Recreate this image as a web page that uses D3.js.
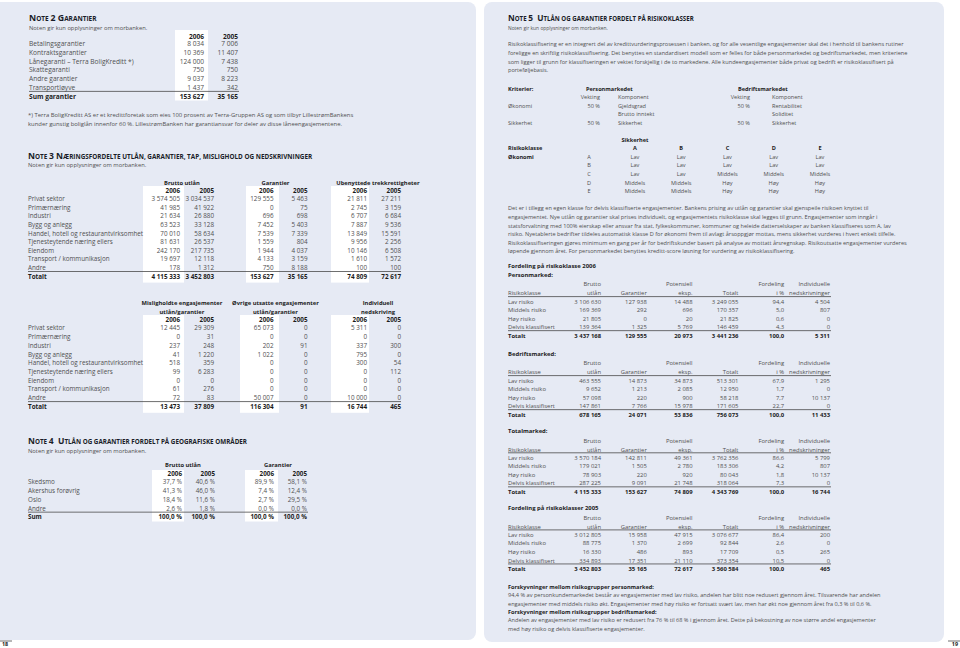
<!doctype html>
<html lang="no">
<head>
<meta charset="utf-8">
<title>Noter 2-5</title>
<style>
html, body { margin: 0; padding: 0; background: #fff; overflow: hidden; }
svg { display: block; }
text { font-family: 'Open Sans', sans-serif; fill: #505050; }
.lp text { font-size: 6.3px; }
.n2 text { font-size: 6.6px; }
.rp text { font-size: 5.6px; }
.rt text { font-size: 5.9px; }
text.fn { font-size: 5.9px; }
text.b, .b text { font-weight: 700; fill: #1c1c1c; }
.lp text.gh { font-size: 5.8px; }
text.ttl { font-weight: 700; fill: #1a1d28; white-space: pre; }
.lp text.sub { font-size: 5.8px; }
.rp text.sub { font-size: 4.9px; }
.rule { stroke: #4a4a4a; stroke-width: 0.8; }
.panel { fill: #e6eaf4; }
.hl { fill: #fff; }
</style>
</head>
<body>
<div id="container"></div>
<script src="https://cdnjs.cloudflare.com/ajax/libs/d3/7.8.5/d3.min.js"></script>
<script>
(function (d3) {
'use strict';

/* DATA */

var aar = ["2006", "2005"];

// note 2
var garantiTyper = ["Betalingsgarantier", "Kontraktsgarantier", "Lånegaranti – Terra BoligKreditt *)",
  "Skattegaranti", "Andre garantier", "Transportløyve", "Sum garantier"];
var garanti2006 = [8034, 10369, 124000, 750, 9037, 1437, 153627];
var garanti2005 = [7006, 11407, 7438, 750, 8223, 342, 35165];
var fotnote = [
  "*)  Terra BoligKreditt AS er et kredittforetak som eies 100 prosent av Terra-Gruppen AS og som tilbyr LillestrømBankens",
  "kunder gunstig boliglån innenfor 60 %. LillestrømBanken har garantiansvar for deler av disse låneengasjementene."
];

// note 3
var naeringer = ["Privat sektor", "Primærnæring", "Industri", "Bygg og anlegg",
  "Handel, hotell og restaurantvirksomhet", "Tjenesteytende næring ellers", "Eiendom",
  "Transport / kommunikasjon", "Andre", "Totalt"];
var grupper1 = ["Brutto utlån", "Garantier", "Ubenyttede trekkrettigheter"];
var utlan2006 = [3574505, 41985, 21634, 63523, 70010, 81631, 242170, 19697, 178, 4115333];
var utlan2005 = [3034537, 41922, 26880, 33128, 58634, 26537, 217735, 12118, 1312, 3452803];
var garantier2006 = [129555, 0, 696, 7452, 7539, 1559, 1944, 4133, 750, 153627];
var garantier2005 = [5463, 75, 698, 5403, 7339, 804, 4037, 3159, 8188, 35165];
var trekk2006 = [21811, 2745, 6707, 7887, 13849, 9956, 10146, 1610, 100, 74809];
var trekk2005 = [27211, 3159, 6684, 9536, 15591, 2256, 6508, 1572, 100, 72617];

var grupper2 = [["Misligholdte engasjementer", "utlån/garantier"],
  ["Øvrige utsatte engasjementer", "utlån/garantier"], ["Individuell", "nedskriving"]];
var mislig2006 = [12445, 0, 237, 41, 518, 99, 0, 61, 72, 13473];
var mislig2005 = [29309, 31, 248, 1220, 359, 6283, 0, 276, 83, 37809];
var utsatt2006 = [65073, 0, 202, 1022, 0, 0, 0, 0, 50007, 116304];
var utsatt2005 = [0, 0, 91, 0, 0, 0, 0, 0, 0, 91];
var nedskr2006 = [5311, 0, 337, 795, 300, 0, 0, 0, 10000, 16744];
var nedskr2005 = [0, 0, 300, 0, 54, 112, 0, 0, 0, 465];

// note 4
var omrader = ["Skedsmo", "Akershus forøvrig", "Oslo", "Andre", "Sum"];
var grupper4 = ["Brutto utlån", "Garantier"];
var omrUtlan2006 = [37.7, 41.3, 18.4, 2.6, 100];
var omrUtlan2005 = [40.6, 46.0, 11.6, 1.8, 100];
var omrGar2006 = [89.9, 7.4, 2.7, 0.0, 100];
var omrGar2005 = [58.1, 12.4, 29.5, 0.0, 100];

// note 5
var innledning = [
  "Risikoklassifisering er en integrert del av kredittvurderingsprosessen i banken, og for alle vesentlige engasjementer skal det i henhold til bankens rutiner",
  "foreligge en skriftlig risikoklassifisering. Det benyttes en standardisert modell som er felles for både personmarkedet og bedriftsmarkedet, men kriteriene",
  "som ligger til grunn for klassifiseringen er vektet forskjellig i de to markedene.  Alle kundeengasjementer både privat og bedrift er risikoklassifisert på",
  "porteføljebasis."
];
var kritRader = ["Økonomi", "", "Sikkerhet"];
var personVekt = ["50 %", "", "50 %"];
var personKomp = ["Gjeldsgrad", "Brutto inntekt", "Sikkerhet"];
var bedriftVekt = ["50 %", "", "50 %"];
var bedriftKomp = ["Rentabilitet", "Soliditet", "Sikkerhet"];
var klasser = ["A", "B", "C", "D", "E"];
var matrise = [
  ["Lav", "Lav", "Lav", "Lav", "Lav"],
  ["Lav", "Lav", "Lav", "Lav", "Lav"],
  ["Lav", "Lav", "Middels", "Middels", "Middels"],
  ["Middels", "Middels", "Høy", "Høy", "Høy"],
  ["Middels", "Middels", "Høy", "Høy", "Høy"]
];
var omtale = [
  "Det er i tillegg en egen klasse for delvis klassifiserte engasjementer. Bankens prising av utlån og garantier skal gjenspeile risikoen knyttet til",
  "engasjementet. Nye utlån og garantier skal prises individuelt, og engasjementets risikoklasse skal legges til grunn. Engasjementer som inngår i",
  "statsforvaltning med 100% eierskap eller ansvar fra stat, fylkeskommuner, kommuner og heleide datterselskaper av banken klassifiseres som A, lav",
  "risiko. Nyetablerte bedrifter tildeles automatisk klasse D for økonomi frem til avlagt årsoppgjør mottas, mens sikkerhet vurderes i hvert enkelt tilfelle.",
  "Risikoklassifiseringen gjøres minimum en gang per år for bedriftskunder basert på analyse av mottatt årsregnskap. Risikoutsatte engasjementer vurderes",
  "løpende gjennom året. For personmarkedet benyttes kreditt-score løsning for vurdering av risikoklassifisering."
];
var risikoklasser = ["Lav risiko", "Middels risiko", "Høy risiko", "Delvis klassifisert", "Totalt"];
var risikoHode1 = ["Brutto", "", "Potensiell", "", "Fordeling", "Individuelle"];
var risikoHode2 = ["utlån", "Garantier", "eksp.", "Totalt", "i %", "nedskrivninger"];

var personBrutto = [3106630, 169369, 21805, 139364, 3437168];
var personGar = [127938, 292, 0, 1325, 129555];
var personPot = [14488, 696, 20, 5769, 20973];
var personTot = [3249055, 170357, 21825, 146459, 3441236];
var personFord = [94.4, 5.0, 0.6, 4.3, 100.0];
var personNed = [4504, 807, 0, 0, 5311];

var bedriftBrutto = [463555, 9652, 57098, 147861, 678165];
var bedriftGar = [14873, 1213, 220, 7766, 24071];
var bedriftPot = [34873, 2085, 900, 15978, 53836];
var bedriftTot = [513301, 12950, 58218, 171605, 756073];
var bedriftFord = [67.9, 1.7, 7.7, 22.7, 100.0];
var bedriftNed = [1295, 0, 10137, 0, 11433];

var totalBrutto = [3570184, 179021, 78903, 287225, 4115333];
var totalGar = [142811, 1505, 220, 9091, 153627];
var totalPot = [49361, 2780, 920, 21748, 74809];
var totalTot = [3762356, 183306, 80043, 318064, 4343769];
var totalFord = [86.6, 4.2, 1.8, 7.3, 100.0];
var totalNed = [5799, 807, 10137, 0, 16744];

var fjorBrutto = [3012805, 88775, 16330, 334893, 3452803];
var fjorGar = [15958, 1370, 486, 17351, 35165];
var fjorPot = [47915, 2699, 893, 21110, 72617];
var fjorTot = [3076677, 92844, 17709, 373354, 3560584];
var fjorFord = [86.4, 2.6, 0.5, 10.5, 100.0];
var fjorNed = [200, 0, 265, 0, 465];

var forskyvning = [
  { head: "Forskyvninger mellom risikogrupper personmarked:", lines: [
    "94,4 % av personkundemarkedet består av engasjementer med lav risiko, andelen har blitt noe redusert gjennom året. Tilsvarende har andelen",
    "engasjementer med middels risiko økt. Engasjementer med høy risiko er fortsatt svært lav, men har økt noe gjennom året fra 0,3 % til 0,6 %."] },
  { head: "Forskyvninger mellom risikogrupper bedriftsmarked:", lines: [
    "Andelen av engasjementer med lav risiko er redusert fra 76 % til 68 % i gjennom året. Dette på bekostning av noe større andel engasjementer",
    "med høy risiko og delvis klassifiserte engasjementer."] }
];

/* UTILS */

var nb = d3.formatLocale({ decimal: ",", thousands: "\u00a0", grouping: [3], currency: ["", " kr"] });
var fInt = nb.format(",d");
var fDec = nb.format(",.1f");
var fPct = function (d) { return fDec(d) + " %"; };

var svg = d3.select("#container").append("svg")
  .attr("width", 960).attr("height", 648);

// small caps headline: capitals full size, lower case as reduced capitals
var title = function (g, x, y, s, size) {
  var runs = [], cur = null;
  s.split("").forEach(function (c) {
    var low = c !== c.toUpperCase();
    var neutral = c.toUpperCase() === c.toLowerCase() && !/[0-9]/.test(c);
    var kind = neutral && cur ? cur.low : low;
    if (!cur || cur.low !== kind) { cur = { low: kind, s: "" }; runs.push(cur); }
    cur.s += c;
  });
  g.append("text").attr("class", "ttl").attr("x", x).attr("y", y)
    .selectAll("tspan").data(runs).join("tspan")
    .attr("font-size", function (d) { return d.low ? size * 0.74 : size; })
    .text(function (d) { return d.s.toUpperCase(); });
};

var text = function (g, x, y, s, cls, anchor) {
  return g.append("text").attr("class", cls || null).attr("x", x).attr("y", y)
    .attr("text-anchor", anchor || "start").text(s);
};

var lines = function (g, arr, x, y0, lh, cls) {
  g.append("g").selectAll("text").data(arr).join("text")
    .attr("class", cls || null)
    .attr("x", x).attr("y", function (d, i) { return y0 + i * lh; })
    .text(function (d) { return d; });
};

// one column of numbers, rows placed by the row scale, last row bold
var column = function (g, values, x, y, rows, fmt, boldLast) {
  g.append("g").selectAll("text").data(values).join("text")
    .attr("class", function (d, i) { return boldLast && i === values.length - 1 ? "b" : null; })
    .attr("x", x).attr("y", function (d, i) { return y(rows[i]); })
    .attr("text-anchor", "end")
    .text(fmt);
};

var labels = function (g, rows, x, y, boldLast) {
  g.append("g").selectAll("text").data(rows).join("text")
    .attr("class", function (d, i) { return boldLast && i === rows.length - 1 ? "b" : null; })
    .attr("x", x).attr("y", function (d) { return y(d); })
    .text(function (d) { return d; });
};

var rule = function (g, x1, x2, y) {
  g.append("line").attr("class", "rule")
    .attr("x1", x1).attr("x2", x2).attr("y1", y).attr("y2", y);
};

var boxes = function (g, spans, y1, y2) {
  g.append("g").selectAll("rect").data(spans).join("rect")
    .attr("class", "hl")
    .attr("x", function (d) { return d[0]; }).attr("width", function (d) { return d[1] - d[0]; })
    .attr("y", y1).attr("height", y2 - y1);
};

/* PANELS */

svg.append("rect").attr("class", "panel").attr("x", -12).attr("y", 2)
  .attr("width", 488).attr("height", 638).attr("rx", 8);
svg.append("rect").attr("class", "panel").attr("x", 484).attr("y", 2)
  .attr("width", 460).attr("height", 640).attr("rx", 8);

var L = svg.append("g").attr("class", "lp");
var R = svg.append("g").attr("class", "rp");

/* NOTE 2 */

(function () {
  var g = L.append("g");
  title(g, 29, 20.5, "Note 2 Garantier", 8.8);
  text(g, 29, 30, "Noten gir kun opplysninger om morbanken.", "sub");
  var t = g.append("g").attr("class", "n2");
  var x = d3.scalePoint().domain(aar).range([204, 238]);
  var y = d3.scalePoint().domain(garantiTyper).range([46.3, 98.6]);
  boxes(t, [[175, 208]], 30, 100.5);
  t.append("g").attr("class", "b").selectAll("text").data(aar).join("text")
    .attr("x", function (d) { return x(d); }).attr("y", 39).attr("text-anchor", "end")
    .text(function (d) { return d; });
  labels(t, garantiTyper, 29, y, true);
  column(t, garanti2006, x("2006"), y, garantiTyper, fInt, true);
  column(t, garanti2005, x("2005"), y, garantiTyper, fInt, true);
  rule(t, 29, 239, y(garantiTyper[garantiTyper.length - 2]) + 1.5);
  lines(g, fotnote, 28, 117.3, 8.3, "fn");
})();

/* NOTE 3 */

var note3Table = function (g, groups, series, spans, top, rowTop, rowBottom) {
  var gx = d3.scalePoint().domain(d3.range(3)).range([180, 367]);
  var ix = d3.scalePoint().domain(aar).range([0, 34]);
  var y = d3.scalePoint().domain(naeringer).range([rowTop, rowBottom]);
  var yearY = rowTop - 8.3;
  boxes(g, spans, top, rowBottom + 4);
  groups.forEach(function (hd, i) {
    var cx = gx(i) + ix("2005") / 2 - 15 + (i === 2 ? 9 : 0);
    hd.forEach(function (s, k) {
      text(g, cx, yearY - 8.4 * (hd.length - k), s, "b gh", "middle");
    });
    aar.forEach(function (a, k) {
      text(g, gx(i) + ix(a), yearY, a, "b", "end");
      column(g, series[i * 2 + k], gx(i) + ix(a), y, naeringer, fInt, true);
    });
  });
  labels(g, naeringer, 28, y, true);
  rule(g, 28, 401, y("Andre") + 1.5);
};

(function () {
  var g = L.append("g");
  title(g, 28, 158.7, "Note 3 Næringsfordelte utlån, garantier, tap, mislighold og nedskrivninger", 8.6);
  text(g, 28, 166.6, "Noten gir kun opplysninger om morbanken.", "sub");
  note3Table(g, grupper1.map(function (d) { return [d]; }),
    [utlan2006, utlan2005, garantier2006, garantier2005, trekk2006, trekk2005],
    [[143, 184], [246, 279], [331, 369]], 186, 201.2, 278.6);
  note3Table(g, grupper2,
    [mislig2006, mislig2005, utsatt2006, utsatt2005, nedskr2006, nedskr2005],
    [[143, 184], [240, 279], [331, 369]], 315, 330.4, 408.8);
})();

/* NOTE 4 */

(function () {
  var g = L.append("g");
  title(g, 28, 444.3, "Note 4  Utlån og garantier fordelt på geografiske områder", 8.5);
  text(g, 28, 453, "Noten gir kun opplysninger om morbanken.", "sub");
  var gx = d3.scalePoint().domain(grupper4).range([182, 274]);
  var ix = d3.scalePoint().domain(aar).range([0, 33]);
  var y = d3.scalePoint().domain(omrader).range([484.4, 519.4]);
  var series = [[omrUtlan2006, omrUtlan2005], [omrGar2006, omrGar2005]];
  boxes(g, [[152, 184], [245, 278]], 470, 521.5);
  grupper4.forEach(function (gr, i) {
    text(g, gx(gr) + 1 + i * 3, 467.4, gr, "b gh", "middle");
    aar.forEach(function (a, k) {
      text(g, gx(gr) + ix(a), 475.8, a, "b", "end");
      column(g, series[i][k], gx(gr) + ix(a), y, omrader, fPct, true);
    });
  });
  labels(g, omrader, 28, y, true);
  rule(g, 28, 308, y("Andre") + 1.5);
})();

/* NOTE 5 */

(function () {
  var g = R.append("g");
  title(g, 508, 21, "Note 5  Utlån og garantier fordelt på risikoklasser", 8.3);
  text(g, 508, 30.3, "Noten gir kun opplysninger om morbanken.", "sub");
  lines(g, innledning, 508, 46.4, 8.6);

  // kriterier
  var ky = d3.scalePoint().domain(d3.range(3)).range([107.7, 124.6]);
  text(g, 508, 91, "Kriterier:", "b");
  text(g, 586, 91, "Personmarkedet", "b");
  text(g, 738, 91, "Bedriftsmarkedet", "b");
  text(g, 600, 99.3, "Vekting", null, "end");
  text(g, 618, 99.3, "Komponent");
  text(g, 750, 99.3, "Vekting", null, "end");
  text(g, 772, 99.3, "Komponent");
  [[kritRader, 508, "start"], [personVekt, 600, "end"], [personKomp, 618, "start"],
   [bedriftVekt, 750, "end"], [bedriftKomp, 772, "start"]].forEach(function (c) {
    g.append("g").selectAll("text").data(c[0]).join("text")
      .attr("x", c[1]).attr("y", function (d, i) { return ky(i); })
      .attr("text-anchor", c[2]).text(function (d) { return d; });
  });

  // risikomatrise
  var mx = d3.scalePoint().domain(klasser).range([635, 820]);
  var my = d3.scalePoint().domain(klasser).range([158.8, 193.2]);
  text(g, mx("A"), 142, "Sikkerhet", "b", "middle");
  text(g, 508, 150.4, "Risikoklasse", "b");
  text(g, 508, 158.8, "Økonomi", "b");
  g.append("g").attr("class", "b").selectAll("text").data(klasser).join("text")
    .attr("x", function (d) { return mx(d); }).attr("y", 150.4)
    .attr("text-anchor", "middle").text(function (d) { return d; });
  g.append("g").selectAll("text").data(klasser).join("text")
    .attr("x", 589).attr("y", function (d) { return my(d); })
    .attr("text-anchor", "middle").text(function (d) { return d; });
  g.append("g").selectAll("g").data(matrise).join("g")
    .attr("transform", function (d, i) { return "translate(0," + my(klasser[i]) + ")"; })
    .selectAll("text").data(function (d) { return d; }).join("text")
    .attr("x", function (d, j) { return mx(klasser[j]); })
    .attr("text-anchor", "middle").text(function (d) { return d; });

  lines(g, omtale, 508, 210.4, 8.6);

  var rt = g.append("g").attr("class", "rt");
  text(rt, 508, 268.3, "Fordeling på risikoklasse 2006", "b");
  var cx = d3.scalePoint().domain(risikoHode2).range([601, 830]);
  var riskTable = function (top, head, series) {
    var y = d3.scalePoint().domain(risikoklasser).range([top + 26.6, top + 60.8]);
    text(rt, 508, top, head, "b");
    risikoHode2.forEach(function (h, i) {
      if (risikoHode1[i]) text(rt, cx(h), top + 9.3, risikoHode1[i], null, "end");
      text(rt, cx(h), top + 18.3, h, null, "end");
      column(rt, series[i], cx(h), y, risikoklasser, i === 4 ? fDec : fInt, true);
    });
    text(rt, 508, top + 18.3, "Risikoklasse");
    labels(rt, risikoklasser.slice(0, 4), 508, y, false);
    text(rt, 508, y("Totalt"), "Totalt", "b");
    rule(rt, 508, 831, top + 19.6);
    rule(rt, 508, 831, y("Delvis klassifisert") + 1.4);
  };
  riskTable(277, "Personmarked:", [personBrutto, personGar, personPot, personTot, personFord, personNed]);
  riskTable(356, "Bedriftsmarked:", [bedriftBrutto, bedriftGar, bedriftPot, bedriftTot, bedriftFord, bedriftNed]);
  riskTable(433.2, "Totalmarked:", [totalBrutto, totalGar, totalPot, totalTot, totalFord, totalNed]);
  riskTable(510.3, "Fordeling på risikoklasser 2005", [fjorBrutto, fjorGar, fjorPot, fjorTot, fjorFord, fjorNed]);

  forskyvning.forEach(function (f, i) {
    var y0 = 588.8 + i * 25;
    text(g, 508, y0, f.head, "b");
    lines(g, f.lines, 508, y0 + 8.4, 8.4);
  });
})();

/* PAGE NUMBERS */

var folio = svg.append("g").attr("class", "b");
rule(folio, 0, 12, 641);
rule(folio, 948, 960, 641);
text(folio, 2, 646.2, "18").attr("font-size", 5.4);
text(folio, 958, 646.2, "19", null, "end").attr("font-size", 5.4);

})(window.d3);
</script>
</body>
</html>
